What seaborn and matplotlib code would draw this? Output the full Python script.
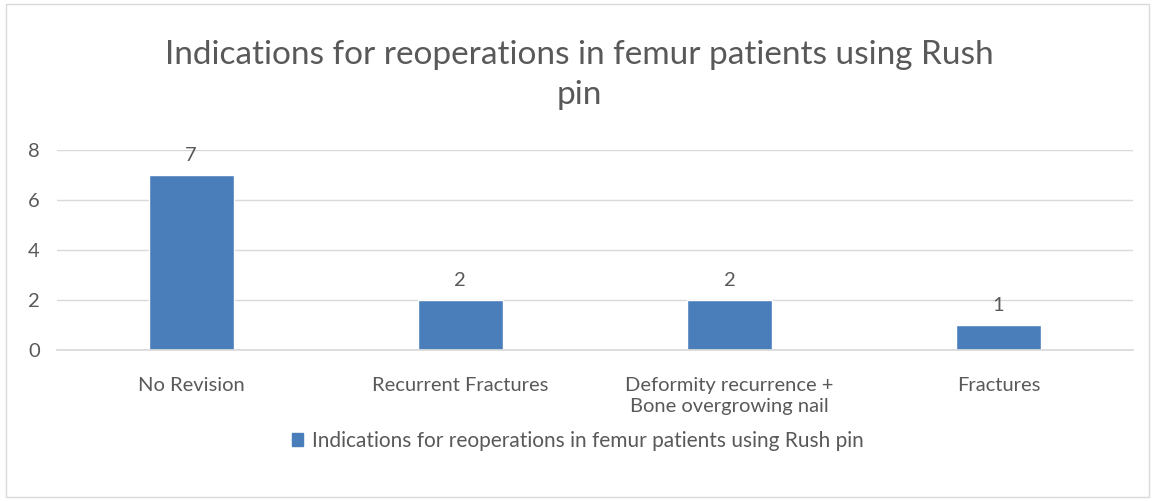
import matplotlib
matplotlib.use("Agg")
import matplotlib.pyplot as plt
import seaborn as sns
import pandas as pd
from matplotlib.patches import Patch, Rectangle

categories = ["No Revision", "Recurrent Fractures",
              "Deformity recurrence +\nBone overgrowing nail", "Fractures"]
values = [7, 2, 2, 1]
series_name = "Indications for reoperations in femur patients using Rush pin"
title = "Indications for reoperations in femur patients using Rush\npin"
yticks = [0, 2, 4, 6, 8]

sns.set_theme(style="white")
plt.rcParams['font.family'] = ['Lato', 'DejaVu Sans']

grey = "#595959"
bar_color = "#4A7EBB"

df = pd.DataFrame({"cat": categories, "val": values})

fig = plt.figure(figsize=(11.55, 5.01), dpi=100)
ax = fig.add_axes([0.049, 0.301, 0.932, 0.399])
sns.barplot(data=df, x="cat", y="val", color=bar_color, width=0.315,
            saturation=1, ax=ax)
ax.set_ylim(0, 8)
ax.set_yticks(yticks)
ax.set_xlim(-0.5, 3.5)
ax.grid(axis="y", color="#D9D9D9", linewidth=1)
ax.set_axisbelow(True)
for s in ["top", "right", "left"]:
    ax.spines[s].set_visible(False)
ax.spines["bottom"].set_color("#D9D9D9")
ax.set_xlabel("")
ax.set_ylabel("")
ax.tick_params(axis="both", length=0, labelsize=14.5, colors=grey)
ax.tick_params(axis="y", pad=12)
ax.tick_params(axis="x", pad=19)
for lbl in ax.get_xticklabels():
    lbl.set_linespacing(1.3)

for c in ax.containers:
    ax.bar_label(c, labels=[str(v) for v in values], padding=8,
                 fontsize=14.5, color=grey)

fig.text(0.502, 0.85, title, ha="center", va="center", fontsize=24,
         color=grey, linespacing=1.4)

fig.legend(handles=[Patch(color=bar_color, label=series_name)],
           loc="center", bbox_to_anchor=(0.5, 0.12), frameon=False,
           fontsize=15, labelcolor=grey, handlelength=0.55, handleheight=0.55,
           handletextpad=0.4)

fig.patches.append(Rectangle((0.005, 0.008), 0.99, 0.984, transform=fig.transFigure,
                             fill=False, edgecolor="#D9D9D9", linewidth=1))

fig.savefig("out.png", dpi=100, facecolor="white")
